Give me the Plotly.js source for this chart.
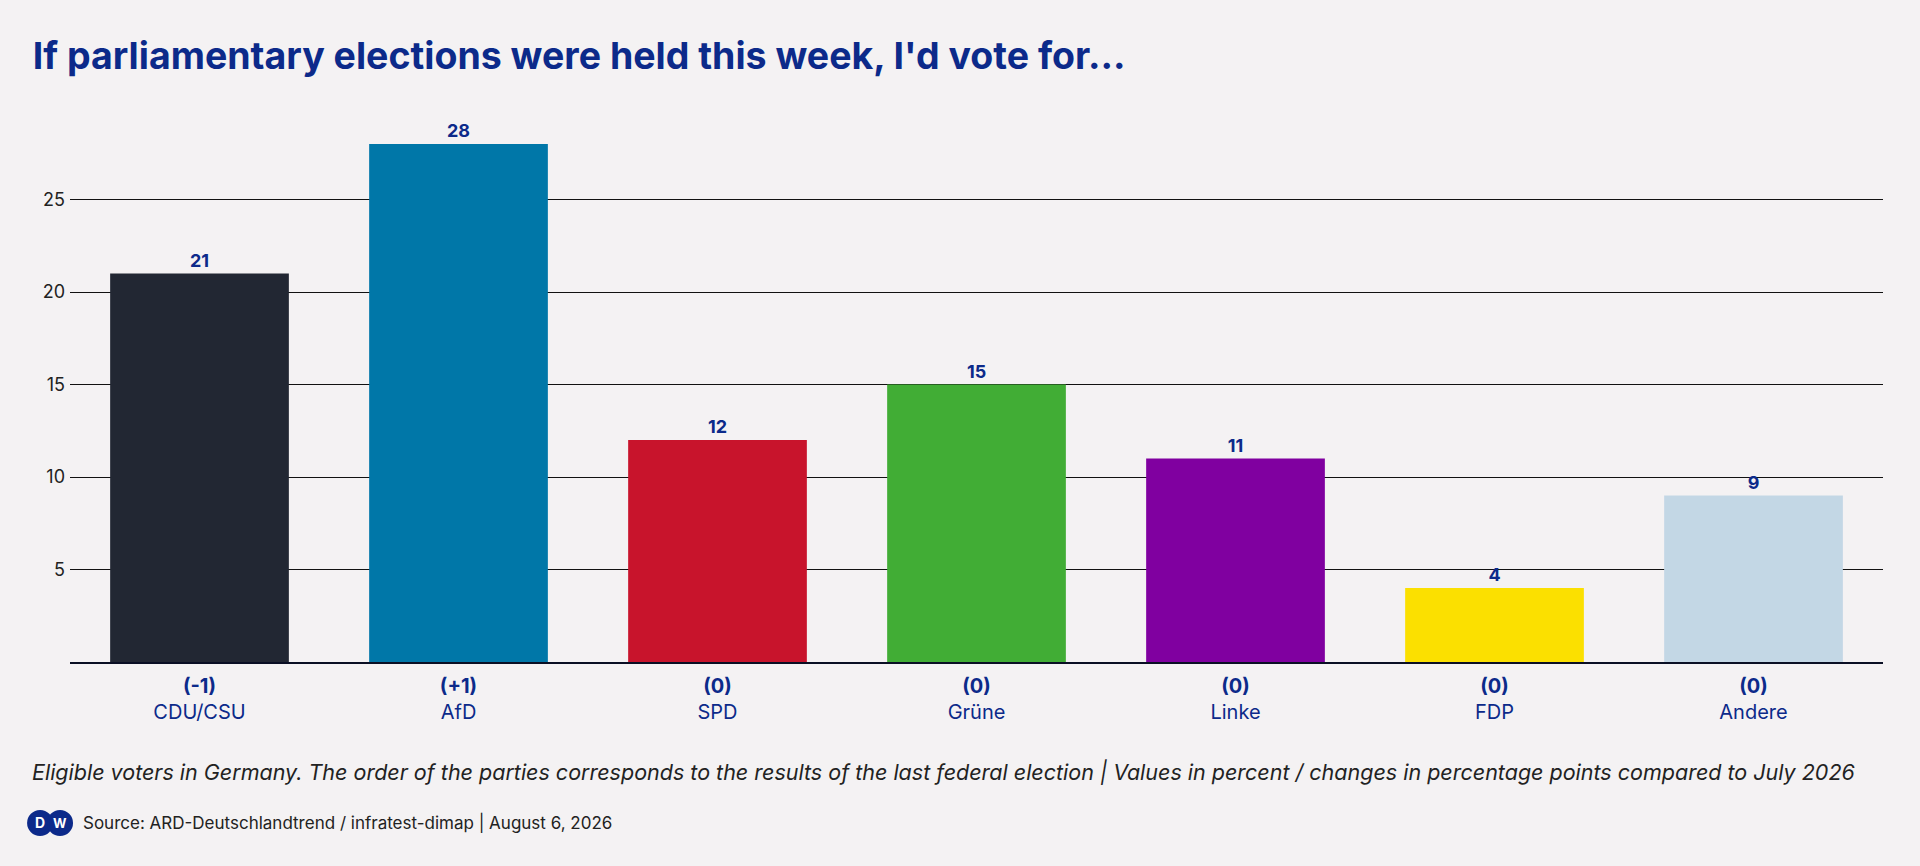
<!DOCTYPE html>
<html>
<head>
<meta charset="utf-8">
<script src="https://cdn.plot.ly/plotly-3.0.1.min.js"></script>
<style>body{margin:0;background:#f4f2f3}#chart{width:1920px;height:866px}</style>
</head>
<body>
<div id="chart"></div>
<script>
const parties = ['CDU/CSU', 'AfD', 'SPD', 'Grüne', 'Linke', 'FDP', 'Andere'];
const values = [21, 28, 12, 15, 11, 4, 9];
const changes = ['(-1)', '(+1)', '(0)', '(0)', '(0)', '(0)', '(0)'];
const colors = ['#222733', '#0077a8', '#c8142c', '#41ad35', '#8000a0', '#fbe000', '#c3d7e5'];

const navy = '#0c2a8a';
const font = 'Inter, "Noto Sans", sans-serif';

var trace = {
  type: 'bar',
  x: parties,
  y: values,
  marker: {color: colors},
  width: 0.69,
  text: values.map(v => '<b>' + v + '</b>'),
  textposition: 'outside',
  textfont: {color: navy, size: 18, family: font},
  cliponaxis: false,
  hoverinfo: 'x+y'
};

var layout = {
  width: 1920, height: 866,
  paper_bgcolor: '#f4f2f3', plot_bgcolor: '#f4f2f3',
  margin: {l: 70, r: 37, t: 107, b: 204},
  showlegend: false,
  bargap: 0.31,
  font: {family: font},
  title: {
    text: "<b>If parliamentary elections were held this week, I'd vote for...</b>",
    x: 0.017, xanchor: 'left', y: 0.935, yanchor: 'middle',
    font: {size: 37.5, color: navy, family: font}
  },
  xaxis: {
    tickvals: parties,
    ticktext: parties.map((p, i) => '<b>' + changes[i] + '</b><br>' + p),
    tickfont: {size: 20, color: navy, family: font},
    showline: true, linecolor: '#0a0f24', linewidth: 2,
    ticks: '', ticklabelstandoff: 5, fixedrange: true
  },
  yaxis: {
    range: [0, 30],
    tickvals: [5, 10, 15, 20, 25],
    tickfont: {size: 18, color: '#222', family: font},
    showgrid: true, gridcolor: '#111', gridwidth: 1,
    zeroline: false, ticks: '', ticklabelstandoff: 4,
    fixedrange: true
  },
  shapes: [
    {type: 'circle', xref: 'paper', yref: 'paper', xsizemode: 'pixel', ysizemode: 'pixel',
     xanchor: -0.0165, yanchor: -0.29, x0: -12, x1: 12, y0: -12, y1: 12, fillcolor: navy, line: {color: navy}},
    {type: 'circle', xref: 'paper', yref: 'paper', xsizemode: 'pixel', ysizemode: 'pixel',
     xanchor: -0.0055, yanchor: -0.29, x0: -12, x1: 12, y0: -12, y1: 12, fillcolor: navy, line: {color: navy}}
  ],
  annotations: [
    {xref: 'paper', yref: 'paper', x: -0.0165, y: -0.29, xanchor: 'center', yanchor: 'middle', text: '<b>D</b>', showarrow: false, font: {size: 14, color: '#fff', family: font}},
    {xref: 'paper', yref: 'paper', x: -0.0055, y: -0.29, xanchor: 'center', yanchor: 'middle', text: '<b>W</b>', showarrow: false, font: {size: 13, color: '#fff', family: font}},
    {xref: 'paper', yref: 'paper', x: -0.022, y: -0.198, xanchor: 'left', yanchor: 'middle', showarrow: false,
     text: '<i>Eligible voters in Germany. The order of the parties corresponds to the results of the last federal election | Values in percent / changes in percentage points compared to July 2026</i>',
     font: {size: 21.5, color: '#222', family: font}},
    {xref: 'paper', yref: 'paper', x: 0.006, y: -0.29, xanchor: 'left', yanchor: 'middle', showarrow: false,
     text: 'Source: ARD-Deutschlandtrend / infratest-dimap | August 6, 2026',
     font: {size: 17, color: '#222', family: font}}
  ]
};

Plotly.newPlot('chart', [trace], layout, {displayModeBar: false});
</script>
</body>
</html>
